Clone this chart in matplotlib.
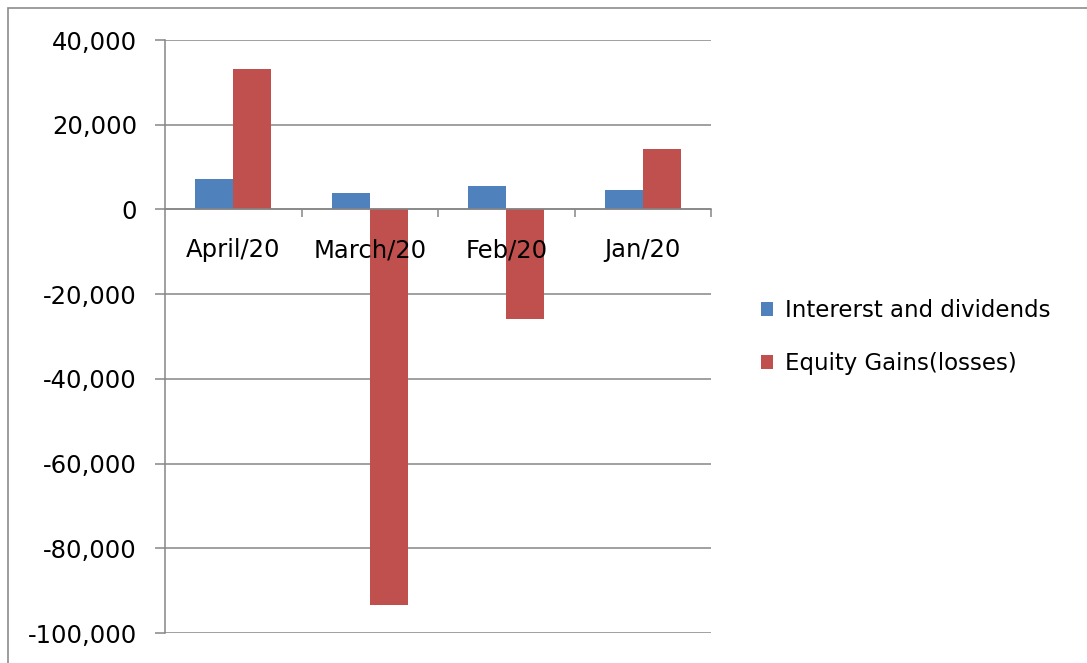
import matplotlib.pyplot as plt
import matplotlib.patches as mpatches
import numpy as np

# data
months = ['April/20', 'March/20', 'Feb/20', 'Jan/20']
interest = [7250, 3950, 5600, 4500]
equity = [33250, -93400, -25800, 14350]
yticks = [40000, 20000, 0, -20000, -40000, -60000, -80000, -100000]

blue = '#4F81BD'
red = '#C0504D'
grey = '#868686'

fig = plt.figure(figsize=(10.87, 6.63), dpi=100)
ax = fig.add_axes([165 / 1087, 1 - 633 / 663, (711 - 165) / 1087, (633 - 40) / 663])

# chart border (no right / bottom edge visible)
fig.patches.append(mpatches.Rectangle((8 / 1087, -0.01), 1.1, 1 - 8 / 663 + 0.01,
                                      transform=fig.transFigure, fill=False,
                                      edgecolor='#8c8c8c', linewidth=1.2))

x = np.arange(len(months))
w = 0.28
ax.bar(x - w / 2, interest, w, color=blue, zorder=2, label='Intererst and dividends')
ax.bar(x + w / 2, equity, w, color=red, zorder=2, label='Equity Gains(losses)')

for y in yticks:
    ax.axhline(y, color=grey, linewidth=1.1, zorder=0)

ax.set_xlim(-0.5, len(months) - 0.5)
ax.set_ylim(-100000, 40000)

for s in ['top', 'right']:
    ax.spines[s].set_visible(False)
ax.spines['left'].set_color(grey)
ax.spines['left'].set_linewidth(1.1)
ax.spines['bottom'].set_position(('data', 0))
ax.spines['bottom'].set_color(grey)
ax.spines['bottom'].set_linewidth(1.1)

ax.set_yticks(yticks)
ax.set_yticklabels(['{:,}'.format(v) for v in yticks], fontsize=17.5)
ax.tick_params(axis='y', length=7.2, width=1.1, color=grey, pad=13)
ax.set_xticks(x + 0.5)
ax.set_xticklabels([])
ax.tick_params(axis='x', length=5.8, width=1.1, color=grey, direction='out')

for i, m in enumerate(months):
    ax.annotate(m, (i, 0), xytext=(0, -41), textcoords='offset pixels',
                ha='center', va='center', fontsize=17.5, zorder=5)

ax.legend(loc='center left', bbox_to_anchor=(740 / 1087, 1 - 337 / 663),
          bbox_transform=fig.transFigure, frameon=False, fontsize=16.5,
          handlelength=0.55, handleheight=0.55, handletextpad=0.5,
          labelspacing=1.3)

fig.savefig('out.png', dpi=100)
